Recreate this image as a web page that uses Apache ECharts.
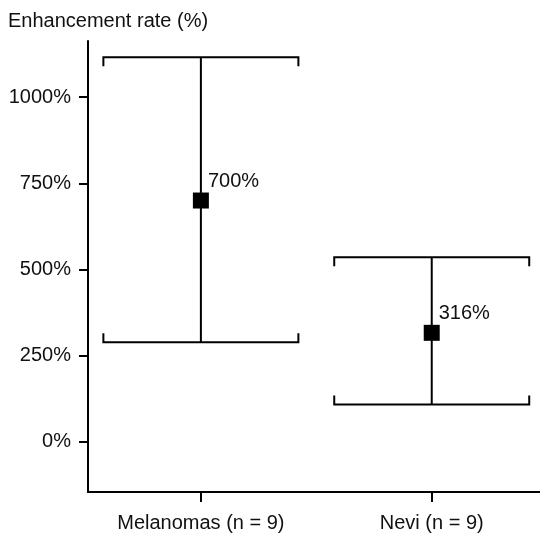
<!DOCTYPE html>
<html>
<head>
<meta charset="utf-8">
<script src="https://cdn.jsdelivr.net/npm/echarts@6/dist/echarts.min.js"></script>
<style>html,body{margin:0;padding:0;background:#fff}#c{width:540px;height:536px}</style>
</head>
<body>
<div id="c"></div>
<script>
var categories = ['Melanomas (n = 9)', 'Nevi (n = 9)'];
var means = [700, 316];
var lowerBounds = [289, 108];
var upperBounds = [1116, 535];
var pointLabels = ['700%', '316%'];
var yTicks = [0, 250, 500, 750, 1000];

var FONT = 'Liberation Sans, Arial, sans-serif';
var FS = 20;

var chart = echarts.init(document.getElementById('c'), null, {renderer: 'canvas'});

var barData = categories.map(function (c, i) { return [i + 1, lowerBounds[i], upperBounds[i]]; });
var pointData = categories.map(function (c, i) { return [i + 1, means[i]]; });

chart.setOption({
  animation: false,
  backgroundColor: '#fff',
  title: {
    text: 'Enhancement rate (%)',
    left: 3, top: 6,
    textStyle: {fontFamily: FONT, fontSize: FS, fontWeight: 'normal', color: '#111'}
  },
  grid: {left: 88, right: 0, top: 41, bottom: 44, containLabel: false},
  xAxis: {
    type: 'value', min: 0.511, max: 2.469,
    splitLine: {show: false},
    axisLine: {show: true, onZero: false, lineStyle: {color: '#000', width: 2}},
    axisTick: {show: true, customValues: [1, 2], length: 10, lineStyle: {color: '#000', width: 2}},
    axisLabel: {
      customValues: [1, 2], margin: 21,
      fontFamily: FONT, fontSize: FS, color: '#111',
      formatter: function (v) { return categories[Math.round(v) - 1] || ''; }
    }
  },
  yAxis: {
    type: 'value', min: -146, max: 1163,
    splitLine: {show: false},
    axisLine: {show: true, onZero: false, lineStyle: {color: '#000', width: 2}},
    axisTick: {show: true, customValues: yTicks, length: 9, lineStyle: {color: '#000', width: 2}},
    axisLabel: {
      customValues: yTicks, margin: 17,
      fontFamily: FONT, fontSize: FS, color: '#111',
      formatter: function (v) { return v + '%'; }
    }
  },
  series: [
    {
      type: 'custom',
      data: barData,
      z: 2,
      renderItem: function (params, api) {
        var x = api.value(0);
        var lo = api.coord([x, api.value(1)]);
        var hi = api.coord([x, api.value(2)]);
        var hw = 97.5, tk = 9;
        var st = {stroke: '#000', lineWidth: 2, fill: null};
        return {
          type: 'group',
          children: [
            {type: 'line', shape: {x1: lo[0], y1: lo[1], x2: hi[0], y2: hi[1]}, style: st},
            {type: 'polyline', shape: {points: [[hi[0] - hw, hi[1] + tk], [hi[0] - hw, hi[1]], [hi[0] + hw, hi[1]], [hi[0] + hw, hi[1] + tk]]}, style: st},
            {type: 'polyline', shape: {points: [[lo[0] - hw, lo[1] - tk], [lo[0] - hw, lo[1]], [lo[0] + hw, lo[1]], [lo[0] + hw, lo[1] - tk]]}, style: st}
          ]
        };
      }
    },
    {
      type: 'scatter',
      data: pointData,
      z: 3,
      symbol: 'rect',
      symbolSize: 16,
      itemStyle: {color: '#000', opacity: 1},
      label: {
        show: true,
        position: [15, -1],
        align: 'left', verticalAlign: 'bottom',
        fontFamily: FONT, fontSize: FS, color: '#111',
        formatter: function (p) { return pointLabels[p.dataIndex]; }
      }
    }
  ]
});
</script>
</body>
</html>
